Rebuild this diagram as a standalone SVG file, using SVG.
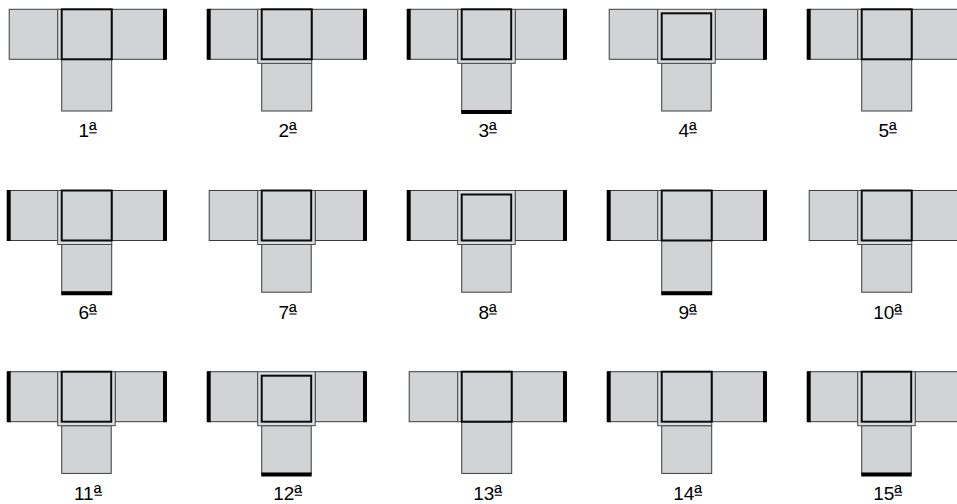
<svg xmlns="http://www.w3.org/2000/svg" width="957" height="504" viewBox="0 0 957 504">
<style>
.sq{fill:#d2d3d5;stroke:#3c3c3c;stroke-width:1}
.ring{fill:#dcdddf;stroke:#4a4a4a;stroke-width:1}
.inner{fill:#d2d3d5;stroke:#0a0a0a;stroke-width:2}
.thick{stroke:#000;stroke-width:4;fill:none}
.lbl{font-family:"Liberation Sans",Arial,sans-serif;font-size:19px;text-anchor:middle;fill:#000}
.sup{font-size:21px}
.ul{stroke:#000;stroke-width:1.1}
</style>
<rect width="957" height="504" fill="#fff"/>
<g id="connectors"></g>

<g id="fig1" transform="translate(61.7,9.3)">
<rect class="sq" x="-52.5" y="0" width="48.5" height="50"/>
<rect class="sq" x="50" y="0" width="53.3" height="50"/>
<rect class="sq" x="0" y="50" width="50" height="51.7"/>
<rect class="ring" x="-4" y="0" width="54" height="50"/>
<rect class="inner" x="0" y="0" width="50" height="50"/>
<line class="thick" x1="103.3" y1="-0.5" x2="103.3" y2="50.5"/>
<text class="lbl" x="26" y="128">1<tspan class="sup">ª</tspan></text>
<line class="ul" x1="27.7" y1="123.5" x2="34.9" y2="123.5"/>
</g>

<g id="fig2" transform="translate(261.7,9.3)">
<rect class="sq" x="-52.5" y="0" width="48.5" height="50"/>
<rect class="sq" x="50" y="0" width="53.3" height="50"/>
<rect class="sq" x="0" y="54" width="50" height="47.7"/>
<rect class="ring" x="-4" y="0" width="54" height="54"/>
<rect class="inner" x="0" y="0" width="50" height="50"/>
<line class="thick" x1="-53" y1="-0.5" x2="-53" y2="50.5"/>
<line class="thick" x1="103.3" y1="-0.5" x2="103.3" y2="50.5"/>
<text class="lbl" x="26" y="128">2<tspan class="sup">ª</tspan></text>
<line class="ul" x1="27.7" y1="123.5" x2="34.9" y2="123.5"/>
</g>

<g id="fig3" transform="translate(461.7,9.3)">
<rect class="sq" x="-52.5" y="0" width="48.5" height="50"/>
<rect class="sq" x="53.5" y="0" width="49.8" height="50"/>
<rect class="sq" x="0" y="54" width="49.5" height="47.7"/>
<rect class="ring" x="-4" y="0" width="57.5" height="54"/>
<rect class="inner" x="0" y="0" width="49.5" height="50"/>
<line class="thick" x1="-53" y1="-0.5" x2="-53" y2="50.5"/>
<line class="thick" x1="103.3" y1="-0.5" x2="103.3" y2="50.5"/>
<line class="thick" x1="-0.5" y1="102.7" x2="50" y2="102.7"/>
<text class="lbl" x="26" y="128">3<tspan class="sup">ª</tspan></text>
<line class="ul" x1="27.7" y1="123.5" x2="34.9" y2="123.5"/>
</g>

<g id="fig4" transform="translate(661.7,9.3)">
<rect class="sq" x="-52.5" y="0" width="48.5" height="50"/>
<rect class="sq" x="53.5" y="0" width="49.8" height="50"/>
<rect class="sq" x="0" y="54" width="49.5" height="47.7"/>
<rect class="ring" x="-4" y="0" width="57.5" height="54"/>
<rect class="inner" x="0" y="4" width="49.5" height="46"/>
<line class="thick" x1="103.3" y1="-0.5" x2="103.3" y2="50.5"/>
<text class="lbl" x="26" y="128">4<tspan class="sup">ª</tspan></text>
<line class="ul" x1="27.7" y1="123.5" x2="34.9" y2="123.5"/>
</g>

<g id="fig5" transform="translate(861.7,9.3)">
<rect class="sq" x="-52.5" y="0" width="48.5" height="50"/>
<rect class="sq" x="50" y="0" width="53.3" height="50"/>
<rect class="sq" x="0" y="50" width="50" height="51.7"/>
<rect class="ring" x="-4" y="0" width="54" height="50"/>
<rect class="inner" x="0" y="0" width="50" height="50"/>
<line class="thick" x1="-53" y1="-0.5" x2="-53" y2="50.5"/>
<text class="lbl" x="26" y="128">5<tspan class="sup">ª</tspan></text>
<line class="ul" x1="27.7" y1="123.5" x2="34.9" y2="123.5"/>
</g>

<g id="fig6" transform="translate(61.7,190.5)">
<rect class="sq" x="-52.5" y="0" width="48.5" height="50"/>
<rect class="sq" x="50" y="0" width="53.3" height="50"/>
<rect class="sq" x="0" y="54" width="50" height="47.7"/>
<rect class="ring" x="-4" y="0" width="54" height="54"/>
<rect class="inner" x="0" y="0" width="50" height="50"/>
<line class="thick" x1="-53" y1="-0.5" x2="-53" y2="50.5"/>
<line class="thick" x1="103.3" y1="-0.5" x2="103.3" y2="50.5"/>
<line class="thick" x1="-0.5" y1="102.7" x2="50.5" y2="102.7"/>
<text class="lbl" x="26" y="128">6<tspan class="sup">ª</tspan></text>
<line class="ul" x1="27.7" y1="123.5" x2="34.9" y2="123.5"/>
</g>

<g id="fig7" transform="translate(261.7,190.5)">
<rect class="sq" x="-52.5" y="0" width="48.5" height="50"/>
<rect class="sq" x="53.5" y="0" width="49.8" height="50"/>
<rect class="sq" x="0" y="54" width="49.5" height="47.7"/>
<rect class="ring" x="-4" y="0" width="57.5" height="54"/>
<rect class="inner" x="0" y="0" width="49.5" height="50"/>
<line class="thick" x1="103.3" y1="-0.5" x2="103.3" y2="50.5"/>
<text class="lbl" x="26" y="128">7<tspan class="sup">ª</tspan></text>
<line class="ul" x1="27.7" y1="123.5" x2="34.9" y2="123.5"/>
</g>

<g id="fig8" transform="translate(461.7,190.5)">
<rect class="sq" x="-52.5" y="0" width="48.5" height="50"/>
<rect class="sq" x="53.5" y="0" width="49.8" height="50"/>
<rect class="sq" x="0" y="54" width="49.5" height="47.7"/>
<rect class="ring" x="-4" y="0" width="57.5" height="54"/>
<rect class="inner" x="0" y="4" width="49.5" height="46"/>
<line class="thick" x1="-53" y1="-0.5" x2="-53" y2="50.5"/>
<line class="thick" x1="103.3" y1="-0.5" x2="103.3" y2="50.5"/>
<text class="lbl" x="26" y="128">8<tspan class="sup">ª</tspan></text>
<line class="ul" x1="27.7" y1="123.5" x2="34.9" y2="123.5"/>
</g>

<g id="fig9" transform="translate(661.7,190.5)">
<rect class="sq" x="-52.5" y="0" width="48.5" height="50"/>
<rect class="sq" x="50" y="0" width="53.3" height="50"/>
<rect class="sq" x="0" y="50" width="50" height="51.7"/>
<rect class="ring" x="-4" y="0" width="54" height="50"/>
<rect class="inner" x="0" y="0" width="50" height="50"/>
<line class="thick" x1="-53" y1="-0.5" x2="-53" y2="50.5"/>
<line class="thick" x1="103.3" y1="-0.5" x2="103.3" y2="50.5"/>
<line class="thick" x1="-0.5" y1="102.7" x2="50.5" y2="102.7"/>
<text class="lbl" x="26" y="128">9<tspan class="sup">ª</tspan></text>
<line class="ul" x1="27.7" y1="123.5" x2="34.9" y2="123.5"/>
</g>

<g id="fig10" transform="translate(861.7,190.5)">
<rect class="sq" x="-52.5" y="0" width="48.5" height="50"/>
<rect class="sq" x="50" y="0" width="53.3" height="50"/>
<rect class="sq" x="0" y="54" width="50" height="47.7"/>
<rect class="ring" x="-4" y="0" width="54" height="54"/>
<rect class="inner" x="0" y="0" width="50" height="50"/>
<text class="lbl" x="26" y="128">10<tspan class="sup">ª</tspan></text>
<line class="ul" x1="33" y1="123.5" x2="40.2" y2="123.5"/>
</g>

<g id="fig11" transform="translate(61.7,371.7)">
<rect class="sq" x="-52.5" y="0" width="48.5" height="50"/>
<rect class="sq" x="53.5" y="0" width="49.8" height="50"/>
<rect class="sq" x="0" y="54" width="49.5" height="47.7"/>
<rect class="ring" x="-4" y="0" width="57.5" height="54"/>
<rect class="inner" x="0" y="0" width="49.5" height="50"/>
<line class="thick" x1="-53" y1="-0.5" x2="-53" y2="50.5"/>
<line class="thick" x1="103.3" y1="-0.5" x2="103.3" y2="50.5"/>
<text class="lbl" x="26" y="128">11<tspan class="sup">ª</tspan></text>
<line class="ul" x1="33" y1="123.5" x2="40.2" y2="123.5"/>
</g>

<g id="fig12" transform="translate(261.7,371.7)">
<rect class="sq" x="-52.5" y="0" width="48.5" height="50"/>
<rect class="sq" x="53.5" y="0" width="49.8" height="50"/>
<rect class="sq" x="0" y="54" width="49.5" height="47.7"/>
<rect class="ring" x="-4" y="0" width="57.5" height="54"/>
<rect class="inner" x="0" y="4" width="49.5" height="46"/>
<line class="thick" x1="-53" y1="-0.5" x2="-53" y2="50.5"/>
<line class="thick" x1="103.3" y1="-0.5" x2="103.3" y2="50.5"/>
<line class="thick" x1="-0.5" y1="102.7" x2="50" y2="102.7"/>
<text class="lbl" x="26" y="128">12<tspan class="sup">ª</tspan></text>
<line class="ul" x1="33" y1="123.5" x2="40.2" y2="123.5"/>
</g>

<g id="fig13" transform="translate(461.7,371.7)">
<rect class="sq" x="-52.5" y="0" width="48.5" height="50"/>
<rect class="sq" x="50" y="0" width="53.3" height="50"/>
<rect class="sq" x="0" y="50" width="50" height="51.7"/>
<rect class="ring" x="-4" y="0" width="54" height="50"/>
<rect class="inner" x="0" y="0" width="50" height="50"/>
<line class="thick" x1="103.3" y1="-0.5" x2="103.3" y2="50.5"/>
<text class="lbl" x="26" y="128">13<tspan class="sup">ª</tspan></text>
<line class="ul" x1="33" y1="123.5" x2="40.2" y2="123.5"/>
</g>

<g id="fig14" transform="translate(661.7,371.7)">
<rect class="sq" x="-52.5" y="0" width="48.5" height="50"/>
<rect class="sq" x="50" y="0" width="53.3" height="50"/>
<rect class="sq" x="0" y="54" width="50" height="47.7"/>
<rect class="ring" x="-4" y="0" width="54" height="54"/>
<rect class="inner" x="0" y="0" width="50" height="50"/>
<line class="thick" x1="-53" y1="-0.5" x2="-53" y2="50.5"/>
<line class="thick" x1="103.3" y1="-0.5" x2="103.3" y2="50.5"/>
<text class="lbl" x="26" y="128">14<tspan class="sup">ª</tspan></text>
<line class="ul" x1="33" y1="123.5" x2="40.2" y2="123.5"/>
</g>

<g id="fig15" transform="translate(861.7,371.7)">
<rect class="sq" x="-52.5" y="0" width="48.5" height="50"/>
<rect class="sq" x="53.5" y="0" width="49.8" height="50"/>
<rect class="sq" x="0" y="54" width="49.5" height="47.7"/>
<rect class="ring" x="-4" y="0" width="57.5" height="54"/>
<rect class="inner" x="0" y="0" width="49.5" height="50"/>
<line class="thick" x1="-53" y1="-0.5" x2="-53" y2="50.5"/>
<line class="thick" x1="-0.5" y1="102.7" x2="50" y2="102.7"/>
<text class="lbl" x="26" y="128">15<tspan class="sup">ª</tspan></text>
<line class="ul" x1="33" y1="123.5" x2="40.2" y2="123.5"/>
</g>
</svg>
